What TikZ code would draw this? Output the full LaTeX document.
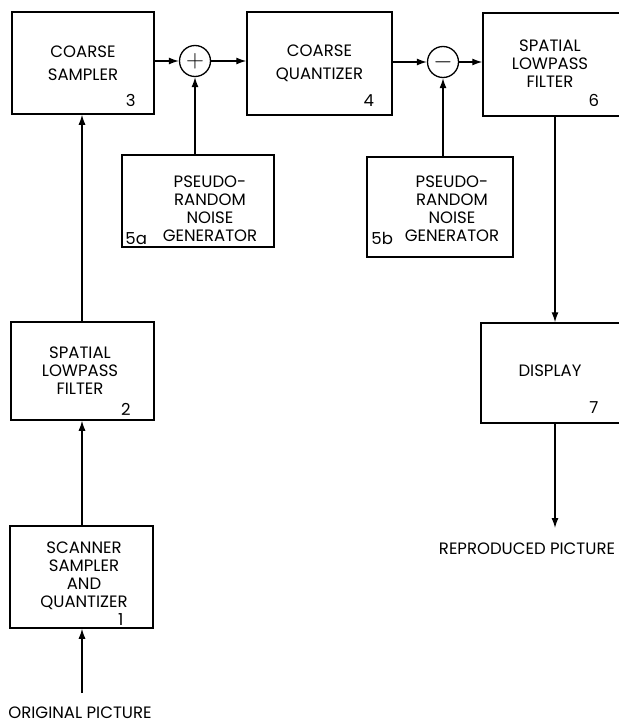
\documentclass[tikz,border=0pt]{standalone}
\usepackage{fontspec}
\setmainfont{Poppins}
\usetikzlibrary{arrows.meta, positioning}

\newcommand{\blkfont}{\fontsize{16.5}{18}\selectfont}
\tikzset{
  blk/.style={draw, line width=1.5pt, rectangle, inner sep=0pt, align=center, font=\blkfont},
  blkwide/.style={blk, font=\fontsize{16.5}{23}\selectfont},
  txt/.style={align=center, font=\blkfont, inner sep=0pt},
  num/.style={font=\blkfont, inner sep=0pt},
  sumnode/.style={draw, circle, line width=1.3pt, minimum size=31pt, inner sep=0pt, font=\fontsize{30}{30}\selectfont},
  flow/.style={line width=1.3pt, -{Latex[length=10pt,width=7pt]}},
}

\begin{document}
\begin{tikzpicture}[x=1pt, y=-1pt]
  \useasboundingbox (0,0) rectangle (618,725);

  % Top row
  \node[blkwide, minimum width=142pt, minimum height=102pt] (b3) at (83,63) {COARSE\\SAMPLER};
  \node[num] (n3) at ([xshift=-24pt,yshift=14pt]b3.south east) {3};
  \node[sumnode] (plus) at (195,61) {$+$};
  \node[blkwide, minimum width=145pt, minimum height=103pt] (b4) at (319.5,63.5) {COARSE\\QUANTIZER};
  \node[num] (n4) at ([xshift=-24pt,yshift=15pt]b4.south east) {4};
  \node[sumnode] (minus) at (443,62) {$-$};
  \node[blk, minimum width=138pt, minimum height=103pt] (b6) at (552,64.5) {};
  \node[txt] (t6) at (550,64) {SPATIAL\\LOWPASS\\FILTER};
  \node[num] (n6) at ([xshift=-28pt,yshift=16pt]b6.south east) {6};

  % Noise generators
  \node[blk, minimum width=152pt, minimum height=92pt] (b5a) at (198,201) {};
  \node[txt] (t5a) at (210,209) {PSEUDO-\\RANDOM\\NOISE\\GENERATOR};
  \node[num, anchor=west] (n5a) at ([xshift=4pt,yshift=9pt]b5a.south west) {5a};
  \node[blk, minimum width=146pt, minimum height=100pt] (b5b) at (440,207) {};
  \node[txt] (t5b) at (452,209) {PSEUDO-\\RANDOM\\NOISE\\GENERATOR};
  \node[num, anchor=west] (n5b) at ([xshift=5pt,yshift=19pt]b5b.south west) {5b};

  % Left column
  \node[blk, minimum width=143pt, minimum height=98pt] (b2) at (82.5,371) {};
  \node[txt] (t2) at (80,371) {SPATIAL\\LOWPASS\\FILTER};
  \node[num] (n2) at ([xshift=-29pt,yshift=11pt]b2.south east) {2};
  \node[blk, minimum width=143pt, minimum height=102pt] (b1) at (81.5,577) {};
  \node[txt] (t1) at (84,576) {SCANNER\\SAMPLER\\AND\\QUANTIZER};
  \node[num] (n1) at ([xshift=-33pt,yshift=9pt]b1.south east) {1};
  \coordinate (in) at (82,693);
  \node[txt] (orig) at (80,713) {ORIGINAL\ PICTURE};

  % Right column
  \node[blk, minimum width=140pt, minimum height=100pt] (disp) at (551,373) {};
  \node[txt] (tdisp) at (550,371) {DISPLAY};
  \node[num] (n7) at ([xshift=-28pt,yshift=16pt]disp.south east) {7};
  \coordinate (out) at (555,528);
  \node[txt] (repr) at (527,549) {REPRODUCED\ PICTURE};

  % Connectors
  \draw[flow] (in) -- (in |- b1.south);
  \draw[flow] (in |- b1.north) -- (in |- b2.south);
  \draw[flow] (in |- b2.north) -- (in |- b3.south);
  \draw[flow] (b3.east |- plus) -- (plus.west);
  \draw[flow] (plus.east) -- (b4.west |- plus);
  \draw[flow] (plus.south |- b5a.north) -- (plus.south);
  \draw[flow] (b4.east |- minus) -- (minus.west);
  \draw[flow] (minus.east) -- (b6.west |- minus);
  \draw[flow] (minus.south |- b5b.north) -- (minus.south);
  \draw[flow] (out |- b6.south) -- (out |- disp.north);
  \draw[flow] (out |- disp.south) -- (out);
\end{tikzpicture}
\end{document}
